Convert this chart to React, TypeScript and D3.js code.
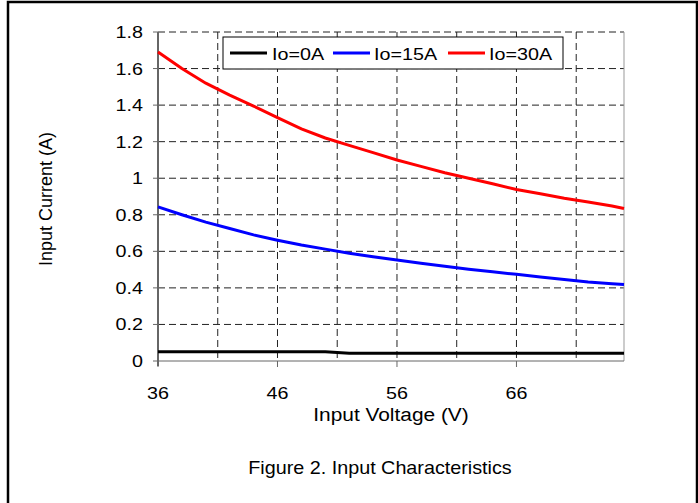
import React from "react";
import * as d3 from "d3";

const voltages = [36, 38, 40, 42, 44, 46, 48, 50, 52, 54, 56, 58, 60, 62, 64, 66, 68, 70, 72, 74, 75];
const io0 = [0.05, 0.05, 0.05, 0.05, 0.05, 0.05, 0.05, 0.05, 0.043, 0.043, 0.043, 0.043, 0.043, 0.043, 0.043, 0.043, 0.043, 0.043, 0.043, 0.043, 0.043];
const io15 = [0.843, 0.8, 0.76, 0.725, 0.69, 0.661, 0.635, 0.612, 0.59, 0.57, 0.552, 0.535, 0.518, 0.502, 0.488, 0.474, 0.46, 0.446, 0.432, 0.423, 0.419];
const io30 = [1.69, 1.6, 1.52, 1.455, 1.395, 1.332, 1.27, 1.22, 1.18, 1.14, 1.1, 1.065, 1.03, 1.0, 0.97, 0.938, 0.915, 0.89, 0.87, 0.848, 0.834];
const seriesNames = ["Io=0A", "Io=15A", "Io=30A"];
const seriesColors = ["#000000", "#0000ff", "#ff0000"];
const yTicks = [0, 0.2, 0.4, 0.6, 0.8, 1, 1.2, 1.4, 1.6, 1.8];
const xLabelTicks = [36, 46, 56, 66];
const xGridTicks = [41, 46, 51, 56, 61, 66, 71];

const FONT = "'Liberation Sans', Arial, sans-serif";
const SX = 1.16;

function T(props: { x: number; y: number; anchor?: string; size?: number; sx?: number; children: React.ReactNode }) {
  const { x, y, anchor = "start", size = 17, sx = SX, children } = props;
  return (
    <text
      transform={`translate(${x},${y}) scale(${sx},1)`}
      dy="0.35em"
      textAnchor={anchor}
      fontFamily={FONT}
      fontSize={size}
      fill="#000"
    >
      {children}
    </text>
  );
}

export default function App() {
  const W = 698, H = 503;
  const left = 158, right = 624, top = 32, bottom = 361;
  const x = d3.scaleLinear().domain([36, 75]).range([left, right]);
  const y = d3.scaleLinear().domain([0, 1.8]).range([bottom, top]);
  const line = d3.line<number>().x((_, i) => x(voltages[i])).y((d) => y(d));
  const series = [io0, io15, io30];

  const legend = { x0: 223, y0: 37, x1: 563, y1: 69 };
  const legendItems = [
    { lx: 230, tx: 272 },
    { lx: 333, tx: 374 },
    { lx: 448, tx: 489 },
  ];
  const lmid = (legend.y0 + legend.y1) / 2;

  return (
    <svg width={W} height={H} style={{ position: "absolute", left: 0, top: 0 }}>
      <rect x={0} y={0} width={W} height={H} fill="#fff" />
      <rect x={8} y={2} width={689} height={510} fill="none" stroke="#000" strokeWidth={2.5} />
      {/* gridlines */}
      {yTicks.filter((t) => t > 0).map((t) => (
        <line key={"hy" + t} x1={left} x2={right} y1={y(t)} y2={y(t)} stroke="#222" strokeWidth={1} strokeDasharray="7,4" />
      ))}
      {xGridTicks.map((t) => (
        <line key={"vx" + t} x1={x(t)} x2={x(t)} y1={top} y2={bottom} stroke="#222" strokeWidth={1} strokeDasharray="7,4" />
      ))}
      {/* axes */}
      <line x1={right} x2={right} y1={top} y2={bottom} stroke="#999" strokeWidth={1} />
      <line x1={left} x2={right} y1={bottom} y2={bottom} stroke="#666" strokeWidth={1} />
      <line x1={left} x2={left} y1={top} y2={bottom + 5} stroke="#666" strokeWidth={2} />
      {yTicks.map((t) => (
        <line key={"ty" + t} x1={left - 5} x2={left} y1={y(t)} y2={y(t)} stroke="#666" strokeWidth={1} />
      ))}
      {xLabelTicks.map((t) => (
        <line key={"tx" + t} x1={x(t)} x2={x(t)} y1={bottom} y2={bottom + 6} stroke="#666" strokeWidth={1} />
      ))}
      {/* data */}
      {series.map((s, i) => (
        <path key={"s" + i} d={line(s) || ""} fill="none" stroke={seriesColors[i]} strokeWidth={3} />
      ))}
      {/* tick labels */}
      {yTicks.map((t) => (
        <T key={"ly" + t} x={left - 15} y={y(t)} anchor="end">
          {String(+t.toFixed(1))}
        </T>
      ))}
      {xLabelTicks.map((t) => (
        <T key={"lx" + t} x={x(t)} y={393} anchor="middle">
          {t}
        </T>
      ))}
      <T x={391} y={415} anchor="middle" size={18}>
        Input Voltage (V)
      </T>
      <text transform="translate(46,199) rotate(-90)" dy="0.35em" textAnchor="middle" fontFamily={FONT} fontSize={18} fill="#000">
        Input Current (A)
      </text>
      <T x={380} y={467} anchor="middle" size={19} sx={1.04}>
        Figure 2. Input Characteristics
      </T>
      {/* legend */}
      <rect x={legend.x0} y={legend.y0} width={legend.x1 - legend.x0} height={legend.y1 - legend.y0} fill="#fff" stroke="#000" strokeWidth={1} />
      {legendItems.map((it, i) => (
        <g key={"lg" + i}>
          <line x1={it.lx} x2={it.lx + 37} y1={lmid} y2={lmid} stroke={seriesColors[i]} strokeWidth={3} />
          <T x={it.tx} y={lmid + 1}>
            {seriesNames[i]}
          </T>
        </g>
      ))}
    </svg>
  );
}
